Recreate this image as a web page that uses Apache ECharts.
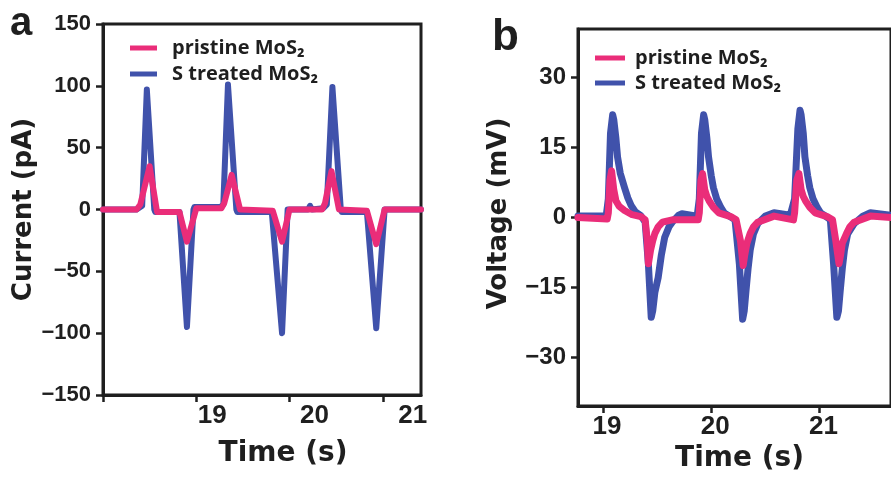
<!DOCTYPE html>
<html>
<head>
<meta charset="utf-8">
<script src="https://cdn.jsdelivr.net/npm/echarts@6/dist/echarts.min.js"></script>
<style>html,body{margin:0;padding:0;background:#fff;}#c{width:891px;height:479px;}</style>
</head>
<body>
<div id="c"></div>
<script>
// ---------- data ----------
var seriesNames = ['pristine MoS₂', 'S treated MoS₂'];

// panel a : Current (pA) vs Time (s), [time, current]
var aTreated = [[18.00,0],[18.36,0],[18.42,3],[18.47,97],[18.55,0],[18.56,-2],[18.82,-2],[18.90,-95],[18.97,0],[18.98,2],
  [19.26,2],[19.29,4],[19.34,101],[19.43,0],[19.44,-2],[19.81,-2],[19.92,-100],[19.98,0],[20.20,0],[20.22,3],[20.24,0],
  [20.36,1],[20.40,4],[20.46,99],[20.55,0],[20.56,-2],[20.83,-2],[20.93,-96],[21.02,0],[21.41,0]];
var aPristine = [[18.00,0],[18.36,0],[18.40,4],[18.50,35],[18.58,-2],[18.82,-2],[18.90,-26],[18.99,-2],[19.00,1],
  [19.27,1],[19.30,5],[19.38,28],[19.47,0],[19.49,-1],[19.82,-1],[19.92,-26],[20.00,0],[20.35,0],[20.38,5],[20.45,31],
  [20.53,0],[20.55,-1],[20.83,-1],[20.93,-28],[21.02,0],[21.41,0]];

// panel b : Voltage (mV) vs Time (s), [time, voltage]
var bTreated = [[18.77,0.3],[19.03,0.3],[19.05,4],[19.07,18],[19.09,22],[19.10,21],[19.12,17],[19.135,13],[19.16,9.5],
  [19.20,6.4],[19.23,4.2],[19.26,2.6],[19.30,1.2],[19.35,0.4],[19.39,-1],[19.42,-10],[19.446,-21.4],[19.46,-20],[19.48,-16],
  [19.51,-12.9],[19.54,-8],[19.57,-4.3],[19.61,-2],[19.64,-1],[19.70,0.5],[19.73,0.8],
  [19.87,0.3],[19.89,4],[19.91,18],[19.93,22],[19.94,21],[19.96,17],[19.975,13],[20.00,9],[20.02,6.4],[20.05,4],[20.09,2.1],
  [20.12,1],[20.16,0.4],[20.22,-0.5],[20.26,-10],[20.29,-21.8],[20.305,-20],[20.32,-16],[20.34,-11],[20.36,-7],[20.39,-3.5],
  [20.43,-1.3],[20.50,0.3],[20.58,1],
  [20.73,0.5],[20.77,4],[20.80,19],[20.82,23],[20.83,22],[20.85,18],[20.865,13],[20.89,9],[20.91,6.4],[20.94,4],[20.98,2.1],
  [21.01,1],[21.05,0.4],[21.10,-0.5],[21.13,-10],[21.16,-21.4],[21.175,-20],[21.19,-16],[21.21,-11],[21.23,-7],[21.26,-3.5],
  [21.32,-1.3],[21.40,0.3],[21.47,1],[21.66,0.5]];
var bPristine = [[18.77,0],[19.04,-0.3],[19.05,1],[19.065,8],[19.08,10],[19.10,6],[19.12,3.6],[19.15,2.4],[19.20,1.5],
  [19.27,0.6],[19.35,0.2],[19.39,-0.5],[19.41,-5],[19.42,-9.9],[19.44,-7],[19.46,-5],[19.48,-3.4],[19.51,-2],[19.55,-1],[19.64,-0.5],
  [19.88,-0.5],[19.89,1],[19.905,8],[19.92,9.4],[19.94,6],[19.96,4.5],[19.98,3.6],[20.02,2.2],[20.07,1],[20.18,0.2],[20.23,-0.5],
  [20.27,-5],[20.295,-10.3],[20.31,-8],[20.33,-5.5],[20.36,-3.4],[20.39,-2],[20.43,-1],[20.58,0.3],
  [20.76,-0.5],[20.77,1],[20.79,8],[20.81,9.4],[20.83,6],[20.85,4.5],[20.87,3.6],[20.91,2.2],[20.96,1],[21.07,0.2],[21.12,-0.5],
  [21.15,-5],[21.18,-9.9],[21.195,-8],[21.21,-5.5],[21.25,-3.4],[21.28,-2],[21.32,-1],[21.47,0.3],[21.66,0]];

// axis ticks
var aXTicks = [18, 19, 20, 21];
var aXLabels = [19, 20, 21];
var bXTicks = [19, 20, 21];
var bYTicks = [-30, -15, 0, 15, 30];

// ---------- styling ----------
var BLUE = '#4052ab', PINK = '#ea2d79', INK = '#1f1f1f';
function minus(v) { return String(v).replace('-', '\u2212'); }
var tickFont = 'Liberation Sans';
var titleFont = 'DejaVu Sans';

var axisLineStyle = { show: true, onZero: false, lineStyle: { color: INK, width: 3 } };
var tickStyle = { show: true, length: 7, lineStyle: { color: INK, width: 2.5 } };

var chart = echarts.init(document.getElementById('c'), null, { renderer: 'canvas' });
chart.setOption({
  animation: false,
  backgroundColor: '#fff',
  title: [
    { text: 'a', left: 5, top: -1, textStyle: { fontFamily: tickFont, fontWeight: 'bold', fontSize: 40, color: INK } },
    { text: 'b', left: 487, top: 11, textStyle: { fontFamily: tickFont, fontWeight: 'bold', fontSize: 44, color: INK } }
  ],
  legend: [
    { orient: 'vertical', left: 125, top: 32, itemWidth: 27, itemHeight: 5, itemGap: 4, icon: 'rect',
      data: [seriesNames[0], seriesNames[1]],
      textStyle: { fontFamily: 'Open Sans', fontWeight: 'bold', fontSize: 20, lineHeight: 22, color: INK, padding: [0, 0, 0, 10] } },
    { orient: 'vertical', left: 590, top: 42, itemWidth: 30, itemHeight: 5, itemGap: 3, icon: 'rect',
      data: [seriesNames[0], seriesNames[1]],
      textStyle: { fontFamily: 'Open Sans', fontWeight: 'bold', fontSize: 20, lineHeight: 22, color: INK, padding: [0, 0, 0, 5] } }
  ],
  grid: [
    { left: 103, top: 24, right: 470, bottom: 84, show: true, borderColor: INK, borderWidth: 3, backgroundColor: 'transparent' },
    { left: 578, top: 29, right: -10, bottom: 73, show: true, borderColor: INK, borderWidth: 3, backgroundColor: 'transparent' }
  ],
  xAxis: [
    { type: 'value', gridIndex: 0, min: 18, max: 21.41,
      axisLine: axisLineStyle,
      axisTick: Object.assign({ customValues: aXTicks }, tickStyle),
      splitLine: { show: false },
      axisLabel: { customValues: aXLabels, margin: 8,
        formatter: function (v) { return '{s' + v + '|' + v + '}'; },
        rich: {
          s19: { fontFamily: tickFont, fontWeight: 'bold', fontSize: 26, color: INK, padding: [0, 0, 0, 32] },
          s20: { fontFamily: tickFont, fontWeight: 'bold', fontSize: 26, color: INK, padding: [0, 0, 0, 50] },
          s21: { fontFamily: tickFont, fontWeight: 'bold', fontSize: 26, color: INK, padding: [0, 0, 0, 60] }
        } },
      name: 'Time (s)', nameLocation: 'middle', nameGap: 45,
      nameTextStyle: { fontFamily: titleFont, fontWeight: 'bold', fontSize: 28, color: INK, padding: [0, 0, 0, 42] } },
    { type: 'value', gridIndex: 1, min: 18.77, max: 21.66,
      axisLine: axisLineStyle,
      axisTick: Object.assign({ customValues: bXTicks }, tickStyle),
      splitLine: { show: false },
      axisLabel: { customValues: bXTicks, margin: 8, fontFamily: tickFont, fontWeight: 'bold', fontSize: 26, color: INK, padding: [0, 0, 0, 8] },
      name: 'Time (s)', nameLocation: 'middle', nameGap: 30,
      nameTextStyle: { fontFamily: titleFont, fontWeight: 'bold', fontSize: 28, color: INK, padding: [0, 0, 0, 10] } }
  ],
  yAxis: [
    { type: 'value', gridIndex: 0, min: -150, max: 150, interval: 50,
      axisLine: axisLineStyle,
      axisTick: tickStyle,
      splitLine: { show: false },
      axisLabel: { margin: 12, fontFamily: tickFont, fontWeight: 'bold', fontSize: 22, color: INK, formatter: minus },
      name: 'Current (pA)', nameLocation: 'middle', nameGap: 66,
      nameTextStyle: { fontFamily: titleFont, fontWeight: 'bold', fontSize: 26, color: INK } },
    { type: 'value', gridIndex: 1, min: -40.4, max: 40.4,
      axisLine: axisLineStyle,
      axisTick: Object.assign({ customValues: bYTicks }, tickStyle),
      splitLine: { show: false },
      axisLabel: { customValues: bYTicks, margin: 12, fontFamily: tickFont, fontWeight: 'bold', fontSize: 24, color: INK, formatter: minus },
      name: 'Voltage (mV)', nameLocation: 'middle', nameGap: 66,
      nameTextStyle: { fontFamily: titleFont, fontWeight: 'bold', fontSize: 26, color: INK, padding: [0, 0, 0, 8] } }
  ],
  series: [
    { name: seriesNames[1], type: 'line', xAxisIndex: 0, yAxisIndex: 0, data: aTreated,
      showSymbol: false, color: BLUE, lineStyle: { width: 6, color: BLUE, join: 'round', cap: 'round' }, z: 2 },
    { name: seriesNames[0], type: 'line', xAxisIndex: 0, yAxisIndex: 0, data: aPristine,
      showSymbol: false, color: PINK, lineStyle: { width: 6, color: PINK, join: 'round', cap: 'round' }, z: 3 },
    { name: seriesNames[1], type: 'line', xAxisIndex: 1, yAxisIndex: 1, data: bTreated,
      showSymbol: false, color: BLUE, lineStyle: { width: 7, color: BLUE, join: 'round', cap: 'round' }, z: 2 },
    { name: seriesNames[0], type: 'line', xAxisIndex: 1, yAxisIndex: 1, data: bPristine,
      showSymbol: false, color: PINK, lineStyle: { width: 7, color: PINK, join: 'round', cap: 'round' }, z: 3 }
  ]
});
</script>
</body>
</html>
